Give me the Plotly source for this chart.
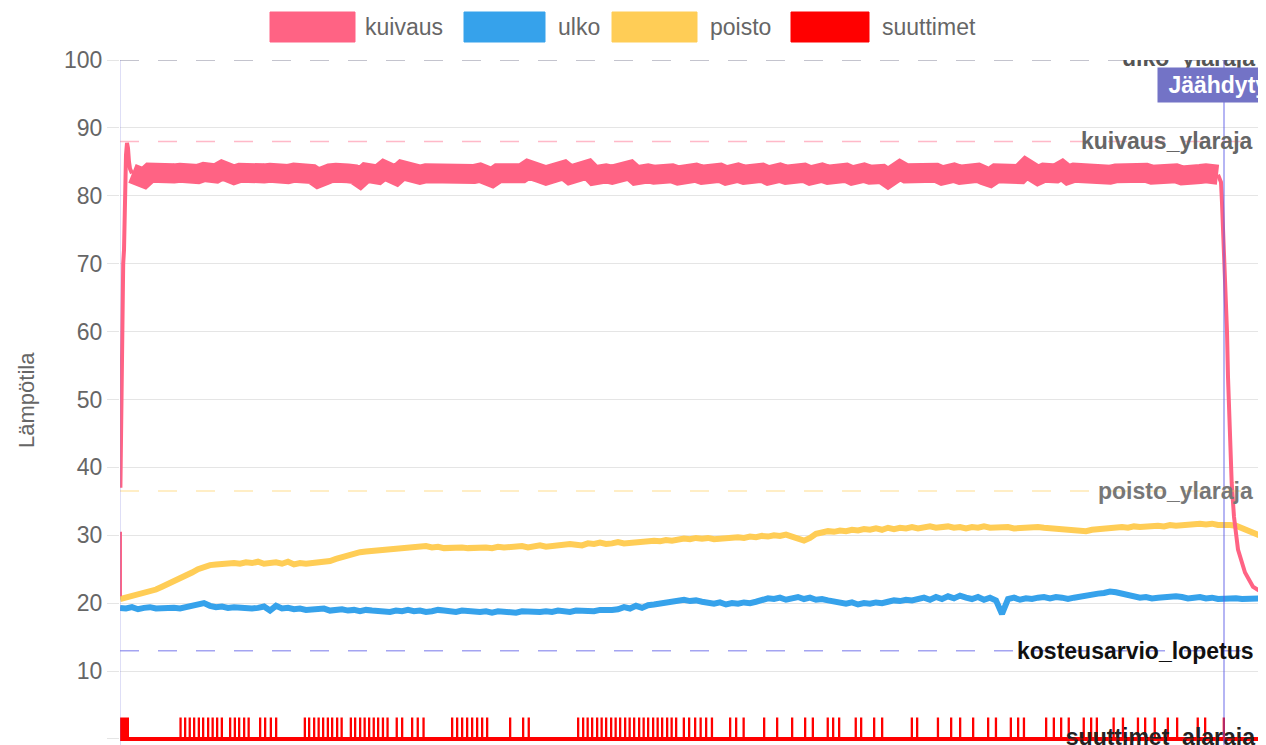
import plotly.graph_objects as go

# ---------------- data ----------------
# time axis (minutes from start), regular grid every 6 minutes
AIKA_ASKEL = 6
AIKA_LOPPU = 1146
aika = list(range(0, AIKA_LOPPU + 1, AIKA_ASKEL))

poisto = [
    20.6, 20.8, 21.0, 21.2, 21.5, 21.7, 22.0, 22.4, 22.8, 23.1,
    23.5, 24.0, 24.5, 25.0, 25.4, 25.6, 25.7, 25.8, 25.8, 25.9,
    25.8, 26.0, 25.9, 26.1, 25.8, 25.9, 26.0, 25.8, 26.1, 25.7,
    25.9, 25.8, 25.9, 26.0, 26.0, 26.2, 26.5, 26.8, 27.1, 27.3,
    27.5, 27.6, 27.7, 27.8, 27.9, 28.0, 27.9, 28.1, 28.2, 28.2,
    28.3, 28.4, 28.2, 28.3, 28.1, 28.2, 28.3, 28.2, 28.1, 28.2,
    28.3, 28.2, 28.1, 28.3, 28.2, 28.3, 28.2, 28.4, 28.2, 28.3,
    28.5, 28.3, 28.4, 28.6, 28.5, 28.7, 28.6, 28.5, 28.8, 28.7,
    28.9, 28.7, 28.8, 29.0, 28.8, 28.9, 29.0, 29.1, 29.0, 29.2,
    29.1, 29.3, 29.2, 29.4, 29.5, 29.4, 29.6, 29.5, 29.6, 29.4,
    29.5, 29.6, 29.5, 29.7, 29.6, 29.8, 29.7, 29.9, 29.8, 30.0,
    29.9, 30.1, 29.8, 29.6, 29.2, 29.6, 30.2, 30.4, 30.6, 30.5,
    30.7, 30.6, 30.8, 30.7, 30.9, 30.8, 31.0, 30.8, 31.1, 30.9,
    31.1, 31.0, 31.2, 31.0, 31.1, 31.3, 31.1, 31.2, 31.3, 31.1,
    31.2, 31.0, 31.2, 31.1, 31.3, 31.1, 31.2, 31.1, 31.2, 31.0,
    31.1, 31.2, 31.1, 31.2, 31.1, 31.0, 31.1, 30.9, 30.8, 30.6,
    30.5, 30.6, 30.8, 30.9, 31.0, 31.1, 31.0, 31.2, 31.1, 31.3,
    31.2, 31.3, 31.2, 31.4, 31.3, 31.5, 31.4, 31.5, 31.6, 31.5,
    31.7, 31.6, 31.7, 31.5, 31.6, 31.5, 31.4, 31.0, 30.6, 30.2,
    29.9, 29.6,
]

ulko = [
    19.3, 19.2, 19.4, 19.1, 19.3, 19.4, 19.2, 19.3, 19.4, 19.3,
    19.2, 19.4, 19.5, 19.7, 20.0, 19.6, 19.4, 19.5, 19.3, 19.4,
    19.3, 19.4, 19.2, 19.3, 19.5, 18.9, 19.6, 19.2, 19.3, 19.1,
    19.2, 19.0, 19.1, 19.0, 19.2, 18.9, 19.0, 19.1, 18.9, 19.0,
    18.8, 19.0, 18.9, 18.8, 18.9, 18.7, 18.9, 18.8, 19.0, 18.8,
    18.9, 18.7, 18.8, 19.0, 18.9, 18.8, 18.7, 18.9, 18.8, 18.9,
    18.7, 18.8, 18.6, 18.8, 18.7, 18.7, 18.6, 18.8, 18.7, 18.6,
    18.7, 18.8, 18.7, 18.9, 18.8, 18.7, 18.9, 18.8, 18.9, 18.8,
    19.0, 18.9, 19.0, 19.1, 19.4, 19.2, 19.6, 19.3, 19.7, 19.8,
    19.9, 20.1, 20.3, 20.4, 20.5, 20.3, 20.4, 20.2, 20.0, 19.9,
    20.1, 19.8, 20.0, 19.9, 20.1, 20.0, 20.2, 20.4, 20.7, 20.6,
    20.8, 20.5, 20.7, 20.9, 20.6, 20.8, 20.5, 20.6, 20.4, 20.2,
    20.0, 19.9, 20.1, 19.8, 20.0, 19.9, 20.1, 20.0, 20.2, 20.4,
    20.3, 20.5, 20.4, 20.6, 20.8, 20.5, 20.9, 20.6, 21.0, 20.7,
    21.1, 20.8, 20.6, 20.9, 20.5, 20.8, 20.4, 18.4, 20.6, 20.8,
    20.5, 20.7, 20.6, 20.8, 20.9, 20.7, 20.9, 20.8, 20.6, 20.8,
    21.0, 21.1, 21.3, 21.4, 21.5, 21.7, 21.6, 21.4, 21.3, 21.1,
    20.8, 20.9, 20.7, 20.8, 20.9, 20.8, 21.0, 20.9, 20.7, 20.8,
    20.9, 20.7, 20.8, 20.6, 20.7, 20.6, 20.7, 20.6, 20.7, 20.6,
    20.7, 20.6,
]

# kuivaus: start-up transient (own time stamps), steady phase on grid, cool-down
kuivaus_alku_aika = [0, 0, 0.2, 0.4, 1.0, 1.6, 2.0, 2.6, 3.2, 4.0, 5.0, 6.0, 7.0, 8.0, 9.0, 10.0, 12.0]
kuivaus_alku = [21.0, 30.5, None, 37.0, 46.0, 53.0, 55.0, 62.0, 70.0, 72.0, 80.0, 86.0, 87.8, 87.0, 85.0, 84.0, 83.3]

kuivaus_tasainen_alku = 12
kuivaus_tasainen = [
    83.3, 83.1, 82.6, 83.4, 83.2, 83.4, 83.0, 83.3, 83.4, 83.1,
    83.3, 83.2, 83.5, 83.0, 83.3, 83.8, 83.2, 83.1, 83.4, 83.2,
    83.4, 83.0, 83.3, 83.4, 83.1, 83.3, 83.2, 83.4, 83.3, 83.9,
    83.2, 82.6, 83.4, 83.3, 83.4, 83.0, 83.3, 83.2, 82.6, 83.4,
    83.3, 83.1, 83.8, 83.3, 83.0, 83.8, 83.3, 83.4, 83.1, 83.3,
    83.2, 83.4, 83.0, 83.3, 83.4, 83.1, 83.3, 83.2, 83.4, 83.0,
    82.7, 83.3, 83.2, 83.4, 83.1, 83.3, 83.9, 83.2, 83.3, 83.0,
    83.4, 83.3, 83.8, 83.1, 83.3, 83.2, 83.9, 83.0, 83.4, 83.3,
    83.1, 83.3, 83.2, 83.8, 83.0, 83.4, 83.3, 83.1, 83.4, 83.2,
    83.3, 83.0, 83.3, 83.8, 83.4, 83.1, 83.3, 83.2, 83.4, 83.0,
    83.3, 83.4, 83.1, 83.3, 83.2, 83.4, 83.0, 83.3, 83.4, 83.1,
    83.3, 83.2, 83.4, 83.0, 83.3, 83.4, 83.1, 83.3, 83.2, 83.4,
    83.0, 83.3, 83.4, 83.1, 83.3, 83.2, 82.6, 83.4, 83.8, 83.3,
    83.4, 83.1, 83.3, 83.2, 83.4, 83.0, 83.3, 83.4, 83.1, 83.3,
    83.2, 83.4, 83.0, 82.7, 83.3, 83.4, 83.1, 83.3, 83.2, 84.1,
    83.3, 83.0, 83.4, 83.2, 83.3, 83.8, 83.1, 83.4, 83.3, 83.0,
    83.3, 83.2, 83.4, 83.1, 83.3, 83.4, 83.0, 83.3, 83.2, 83.4,
    83.1, 83.3, 83.4, 83.2, 83.3, 83.0, 83.3, 83.4, 83.2, 83.3,
    83.3, 83.1,
]

kuivaus_loppu_aika = [1098, 1101, 1102, 1104, 1105, 1107, 1108, 1110, 1111.7, 1114, 1118, 1125, 1133, 1143, 1146]
kuivaus_loppu = [83.1, 82.0, 79.0, 72.0, 70.0, 60.0, 53.3, 42.6, 37.7, 32.7, 27.9, 24.5, 22.4, 21.5, 21.2]

# suuttimet (nozzles): on/off pulses
suutin_paalla_arvo = 3.0
suutin_alku = (0, 8)  # on at the start
suutin_pulssit = [
    60.4, 65, 69.6, 74, 78.7, 83, 88, 92.5, 97, 101.7, 110, 114.7, 119, 124, 128.5,
    140, 145, 150.7, 156, 184.7, 189, 194, 198.5, 203, 207.7, 212, 217, 221.5,
    230.7, 235, 240, 244.5, 249, 253.6, 258, 262.8, 267.4, 276.6, 282, 292, 297.6,
    303.4, 332, 337, 342, 347, 352, 357, 362, 367, 390, 403, 408.6,
    458, 463, 467.5, 472, 477, 481.5, 486, 491, 495.5, 500, 505, 509.5, 514, 519,
    523.5, 528, 533, 537.5, 542, 547, 551.5, 556, 563.7, 569, 575, 580.5, 586, 591.8,
    610, 616, 623.5, 644, 657, 672, 685, 692.7, 707.6, 713, 719, 735.6, 741, 754, 762,
    791.7, 797, 817.8, 831, 840, 853, 868, 875.8, 890.7, 898, 903.8, 926, 933.7, 941,
    948.6, 963.6, 971, 976.7, 993.5, 1002.8, 1017.8, 1025, 1034.6, 1047.7, 1057,
    1077.6, 1085, 1103.7,
]
suutin_pulssin_kesto = 0.3

# limit lines
rajat = {
    "ulko_ylaraja": 100,
    "kuivaus_ylaraja": 88,
    "poisto_ylaraja": 36.5,
    "kosteusarvio_lopetus": 13,
    "suuttimet_alaraja": 0,
}
vaiheet = {"kuivaus_alku": 0, "Jäähdytys": 1104}

y_ticks = list(range(0, 101, 10))

# ---------------- figure ----------------
FONT = "Liberation Sans, Arial, Helvetica, sans-serif"
OFF = 8                      # browser body margin
W, H = 1266 - OFF, 745 - OFF
ML, MT = 120 - OFF, 60 - OFF
PW, PH = W - ML, H - MT

def px_x(px):  # reference-screenshot pixel -> paper
    return (px - OFF - ML) / PW

def px_y(py):
    return (H - (py - OFF)) / PH

C_KUIV = "#FF6384"
C_ULKO = "#36A2EB"
C_POIS = "#FFCD56"
C_SUUT = "#FF0000"

fig = go.Figure()

# suuttimet pulses
sx = [suutin_alku[0], suutin_alku[1], suutin_alku[1]]
sy = [suutin_paalla_arvo, suutin_paalla_arvo, 0]
for t in suutin_pulssit:
    sx += [t, t, t + suutin_pulssin_kesto, t + suutin_pulssin_kesto]
    sy += [0, suutin_paalla_arvo, suutin_paalla_arvo, 0]
sx.append(AIKA_LOPPU)
sy.append(0)
fig.add_trace(go.Scatter(x=sx, y=sy, mode="lines", name="suuttimet",
                         line=dict(color=C_SUUT, width=2), showlegend=False))
# thicker baseline for the off state
fig.add_trace(go.Scatter(x=[suutin_alku[0], AIKA_LOPPU], y=[0, 0], mode="lines",
                         line=dict(color=C_SUUT, width=4), showlegend=False, hoverinfo="skip"))
fig.add_trace(go.Scatter(x=[suutin_alku[0], suutin_alku[1]], y=[suutin_paalla_arvo / 2] * 2, mode="lines",
                         line=dict(color=C_SUUT, width=20), showlegend=False, hoverinfo="skip"))

fig.add_trace(go.Scatter(x=aika, y=poisto, mode="lines", name="poisto",
                         line=dict(color=C_POIS, width=6), showlegend=False))
fig.add_trace(go.Scatter(x=aika, y=ulko, mode="lines", name="ulko",
                         line=dict(color=C_ULKO, width=6), showlegend=False))

tas_aika = [kuivaus_tasainen_alku + i * AIKA_ASKEL for i in range(len(kuivaus_tasainen))]
fig.add_trace(go.Scatter(x=kuivaus_alku_aika, y=kuivaus_alku, mode="lines", name="kuivaus",
                         line=dict(color=C_KUIV, width=4), connectgaps=False, showlegend=False))
fig.add_trace(go.Scatter(x=kuivaus_loppu_aika, y=kuivaus_loppu, mode="lines", name="kuivaus",
                         line=dict(color=C_KUIV, width=4), showlegend=False))
fig.add_trace(go.Scatter(x=tas_aika, y=kuivaus_tasainen, mode="lines", name="kuivaus",
                         line=dict(color=C_KUIV, width=20), showlegend=False))

# clipped labels (text traces clip to plot area)
lbl_x = 1135
fig.add_trace(go.Scatter(x=[lbl_x], y=[rajat["ulko_ylaraja"]], mode="text", text=["ulko_ylaraja"],
                         textposition="middle left", cliponaxis=True, showlegend=False,
                         textfont=dict(family=FONT, size=23, color="#555", weight="bold")))
fig.add_trace(go.Scatter(x=[lbl_x], y=[rajat["suuttimet_alaraja"]], mode="text", text=["suuttimet_alaraja"],
                         textposition="middle left", cliponaxis=True, showlegend=False,
                         textfont=dict(family=FONT, size=23, color="#222", weight="bold")))

shapes = []
dash = "19px,19px"
raja_tyyli = {
    "ulko_ylaraja": "rgba(80,80,110,0.45)",
    "kuivaus_ylaraja": "rgba(255,99,132,0.45)",
    "poisto_ylaraja": "rgba(255,205,86,0.45)",
    "kosteusarvio_lopetus": "rgba(90,90,230,0.55)",
    "suuttimet_alaraja": "rgba(255,0,0,0.5)",
}
for k, v in rajat.items():
    shapes.append(dict(type="line", xref="x", yref="y", x0=0, x1=AIKA_LOPPU, y0=v, y1=v,
                       line=dict(color=raja_tyyli[k], width=1.5, dash=dash), layer="above"))

shapes.append(dict(type="line", xref="x", yref="paper", x0=vaiheet["kuivaus_alku"], x1=vaiheet["kuivaus_alku"],
                   y0=0, y1=1, line=dict(color="rgba(130,130,220,0.35)", width=1.5)))
shapes.append(dict(type="line", xref="x", yref="paper", x0=vaiheet["Jäähdytys"], x1=vaiheet["Jäähdytys"],
                   y0=0, y1=1, line=dict(color="rgba(90,90,230,0.6)", width=1.5)))

annotations = []
lbl_col = {"kuivaus_ylaraja": "#666", "poisto_ylaraja": "#777", "kosteusarvio_lopetus": "#111"}
for k, c in lbl_col.items():
    annotations.append(dict(x=lbl_x, y=rajat[k], xref="x", yref="y", text=k, showarrow=False,
                            xanchor="right", yanchor="middle",
                            font=dict(family=FONT, size=23, color=c, weight="bold")))

annotations.append(dict(x=vaiheet["Jäähdytys"], y=96.3, xref="x", yref="y",
                        text="\u00a0Jäähdytys\u00a0",
                        showarrow=False, xanchor="center", yanchor="middle", bgcolor="#7373c6",
                        borderpad=4, font=dict(family=FONT, size=23, color="white", weight="bold")))

# y-axis title
annotations.append(dict(x=px_x(27), y=px_y(400), xref="paper", yref="paper", text="Lämpötila",
                        showarrow=False, textangle=-90, xanchor="center", yanchor="middle",
                        font=dict(family=FONT, size=22, color="#666")))

# custom legend (Chart.js style boxes)
legend_items = [("kuivaus", C_KUIV, 270, 355, 363), ("ulko", C_ULKO, 464, 545, 556),
                ("poisto", C_POIS, 612, 697, 708), ("suuttimet", C_SUUT, 791, 869, 880)]
for name, col, bx0, bx1, tx in legend_items:
    shapes.append(dict(type="rect", xref="paper", yref="paper", x0=px_x(bx0), x1=px_x(bx1),
                       y0=px_y(42), y1=px_y(12), fillcolor=col, line=dict(color=col, width=1)))
    annotations.append(dict(x=px_x(tx), y=px_y(27), xref="paper", yref="paper", text=name,
                            showarrow=False, xanchor="left", yanchor="middle",
                            font=dict(family=FONT, size=23, color="#666")))

fig.update_layout(
    width=W, height=H,
    margin=dict(l=ML, r=0, t=MT, b=0, pad=0),
    paper_bgcolor="white", plot_bgcolor="white",
    font=dict(family=FONT, color="#666"),
    showlegend=False,
    shapes=shapes, annotations=annotations,
    xaxis=dict(range=[0, AIKA_LOPPU], showgrid=False, showticklabels=False, zeroline=False,
               showline=False, ticks=""),
    yaxis=dict(range=[-0.9, 100], tickvals=y_ticks, gridcolor="rgba(0,0,0,0.1)", gridwidth=1,
               ticks="outside", ticklen=12, tickcolor="rgba(0,0,0,0.1)",
               tickfont=dict(family=FONT, size=23, color="#666"), zeroline=False,
               showline=False, automargin=False),
)

fig.write_html("out.html")
